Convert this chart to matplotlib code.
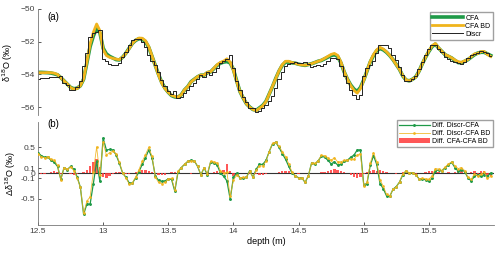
import matplotlib
matplotlib.use("Agg")
import matplotlib.pyplot as plt
import numpy as np

plt.rcParams['font.family'] = ['Liberation Sans', 'DejaVu Sans']

# depth grid (m), 2.5 cm resolution
depth = 12.5 + 0.025 * np.arange(140)

# CFA d18O (permil)
cfa = np.array([
    -53.88, -53.88, -53.89, -53.90, -53.92, -53.97, -54.03, -54.20, -54.40, -54.60,
    -54.80, -54.88, -54.85, -54.70, -54.30, -53.30, -52.30, -51.65, -51.20, -51.45,
    -52.40, -52.75, -52.90, -53.00, -53.10, -53.12, -52.95, -52.70, -52.40, -52.10,
    -51.92, -51.82, -51.85, -52.00, -52.35, -52.90, -53.45, -54.00, -54.50, -54.85,
    -55.10, -55.30, -55.38, -55.40, -55.25, -54.95, -54.75, -54.45, -54.30, -54.15,
    -54.05, -54.05, -53.90, -53.85, -53.65, -53.45, -53.32, -53.25, -53.22, -53.30,
    -53.70, -54.40, -55.05, -55.45, -55.80, -56.00, -56.15, -56.20, -56.05, -55.90,
    -55.65, -55.20, -54.75, -54.25, -53.80, -53.45, -53.25, -53.25, -53.30, -53.32,
    -53.38, -53.42, -53.45, -53.40, -53.35, -53.28, -53.20, -53.15, -53.05, -52.95,
    -52.85, -52.80, -52.90, -53.30, -53.85, -54.30, -54.65, -54.90, -55.05, -54.80,
    -54.35, -53.80, -53.25, -52.85, -52.55, -52.42, -52.50, -52.65, -52.85, -53.10,
    -53.40, -53.70, -54.10, -54.35, -54.40, -54.30, -54.15, -53.80, -53.35, -52.95,
    -52.60, -52.30, -52.15, -52.40, -52.60, -52.80, -52.90, -53.00, -53.15, -53.28,
    -53.30, -53.20, -53.10, -52.95, -52.80, -52.70, -52.65, -52.65, -52.75, -52.85])

# difference CFA - Discr (permil)
diff_discr_cfa = np.array([
    0.40, 0.34, 0.31, 0.31, 0.25, 0.21, 0.13, -0.12, 0.11, 0.07,
    0.13, 0.08, -0.07, -0.27, -0.80, -0.60, -0.60, -0.20, 0.23, -0.16,
    0.68, 0.45, 0.46, 0.45, 0.35, 0.19, 0.00, -0.08, -0.19, -0.19,
    -0.09, 0.03, 0.17, 0.30, 0.45, 0.30, -0.05, -0.14, -0.16, -0.15,
    -0.11, -0.12, -0.35, 0.03, 0.11, 0.17, 0.23, 0.25, 0.24, 0.13,
    -0.03, 0.10, -0.03, 0.22, 0.20, 0.16, 0.00, -0.06, -0.15, -0.50,
    -0.08, 0.00, -0.09, -0.09, -0.08, 0.05, -0.08, 0.08, 0.17, 0.17,
    0.25, 0.42, 0.57, 0.60, 0.50, 0.38, 0.27, 0.13, 0.00, -0.05,
    -0.09, -0.09, -0.18, -0.05, 0.20, 0.18, 0.24, 0.33, 0.31, 0.25,
    0.18, 0.22, 0.16, 0.17, 0.23, 0.25, 0.31, 0.35, 0.45, 0.45,
    -0.22, -0.20, 0.15, 0.34, 0.17, -0.20, -0.30, -0.44, -0.45, -0.31,
    -0.26, -0.17, -0.03, 0.04, 0.00, 0.01, -0.03, -0.11, -0.11, -0.13,
    -0.16, -0.10, 0.05, 0.06, 0.05, 0.11, 0.16, 0.21, 0.11, 0.04,
    0.07, 0.03, -0.09, -0.15, -0.06, -0.03, -0.06, -0.03, -0.06, 0.00])

# difference CFA - CFA BD (permil)
diff_cfa_bd = np.array([
    -0.02, -0.02, -0.01, 0.01, 0.02, 0.04, 0.02, -0.01, 0.00, 0.01,
    -0.01, -0.03, -0.02, 0.00, 0.02, 0.06, 0.14, 0.22, 0.28, 0.12,
    -0.08, -0.10, -0.06, -0.02, 0.03, 0.02, 0.00, -0.01, -0.02, 0.00,
    0.02, 0.04, 0.06, 0.06, 0.05, 0.03, -0.02, -0.04, -0.04, -0.03,
    0.00, 0.02, 0.03, 0.01, 0.00, 0.01, 0.00, -0.01, 0.00, 0.01,
    0.00, 0.01, 0.02, 0.01, 0.02, 0.04, 0.05, 0.06, 0.17, 0.05,
    -0.05, -0.04, 0.00, 0.01, 0.00, -0.01, 0.00, -0.02, -0.03, -0.03,
    -0.02, 0.00, 0.01, 0.00, 0.02, 0.04, 0.05, 0.05, 0.02, 0.00,
    -0.01, 0.00, 0.01, 0.00, 0.00, 0.01, 0.00, 0.02, 0.03, 0.05,
    0.07, 0.08, 0.06, 0.05, 0.02, 0.00, -0.04, -0.08, -0.10, -0.07,
    -0.02, 0.02, 0.04, 0.06, 0.05, 0.07, 0.05, 0.03, 0.01, 0.00,
    -0.01, 0.00, 0.02, 0.01, 0.00, 0.00, -0.01, 0.00, 0.01, 0.02,
    0.04, 0.05, 0.04, 0.02, 0.00, 0.01, 0.02, 0.01, 0.03, 0.05,
    0.04, 0.02, 0.01, 0.03, 0.05, -0.03, 0.04, 0.05, -0.04, -0.06])

discr = cfa - diff_discr_cfa
cfa_bd = cfa + diff_cfa_bd
diff_discr_cfa_bd = diff_discr_cfa + diff_cfa_bd

green = '#1f9a48'
yellow = '#f0b41c'
red = '#ff3b3b'
axc = '#404040'

fig = plt.figure(figsize=(5, 2.56), dpi=100)
ax1 = fig.add_axes([0.076, 0.55, 0.912, 0.415])
ax2 = fig.add_axes([0.076, 0.122, 0.912, 0.403])

# top panel
ax1.plot(depth, cfa, color=green, lw=2.6, label='CFA')
ax1.plot(depth, cfa_bd, color=yellow, lw=2.0, label='CFA BD')
ax1.plot(depth, discr, color='#222222', lw=0.7, drawstyle='steps-mid', label='Discr')
ax1.set_xlim(12.5, 16.0)
ax1.set_ylim(-56.5, -50)
ax1.set_yticks([-56, -54, -52, -50])
ax1.set_xticks([])
for s in ['top', 'right', 'bottom']:
    ax1.spines[s].set_visible(False)
ax1.set_ylabel('δ$^{18}$O (‰)', fontsize=6.5, labelpad=4)
ax1.text(0.02, 0.97, '(a)', transform=ax1.transAxes, fontsize=7, va='top')
ax1.legend(loc='upper right', bbox_to_anchor=(1.0, 0.98), fontsize=5, frameon=True,
           fancybox=False, edgecolor='#888888', handlelength=4.5, handletextpad=0.3,
           borderpad=0.3, labelspacing=0.15, borderaxespad=0.2)

# bottom panel
ax2.axhline(0, color='#333333', lw=0.8, zorder=1)
ax2.plot(depth, diff_discr_cfa, color=green, lw=0.9, marker='.', markersize=2.2,
         label='Diff. Discr-CFA', zorder=3)
ax2.plot(depth, diff_discr_cfa_bd, color=yellow, lw=0.6, marker='.', markersize=2.0,
         alpha=0.9, label='Diff. Discr-CFA BD', zorder=4)
ax2.bar(depth, diff_cfa_bd, width=0.018, color=red, alpha=0.85, lw=0,
        label='Diff. CFA-CFA BD', zorder=2)
ax2.set_xlim(12.5, 16.0)
ax2.set_ylim(-1.0, 1.0)
ax2.set_yticks([-0.5, -0.1, 0, 0.1, 0.5])
ax2.set_yticklabels(['-0.5', '-0.1', '0', '0.1', '0.5'])
ax2.set_xticks([12.5, 13, 13.5, 14, 14.5, 15, 15.5])
ax2.set_xticklabels(['12.5', '13', '13.5', '14', '14.5', '15', '15.5'])
for s in ['top', 'right']:
    ax2.spines[s].set_visible(False)
ax2.set_ylabel('Δδ$^{18}$O (‰)', fontsize=6.5, labelpad=2)
ax2.set_xlabel('depth (m)', fontsize=6.5, labelpad=2)
ax2.text(0.02, 1.03, '(b)', transform=ax2.transAxes, fontsize=7, va='top')
ax2.legend(loc='upper right', bbox_to_anchor=(1.0, 1.03), fontsize=5, frameon=True,
           fancybox=False, edgecolor='#888888', handlelength=4.5, handletextpad=0.3,
           borderpad=0.3, labelspacing=0.15, borderaxespad=0.2)

for ax in (ax1, ax2):
    ax.tick_params(direction='in', length=2.5, width=0.6, labelsize=6, colors=axc, pad=2)
    for s in ax.spines.values():
        s.set_color('#777777')
        s.set_linewidth(0.6)

fig.savefig('out.png', dpi=100)
